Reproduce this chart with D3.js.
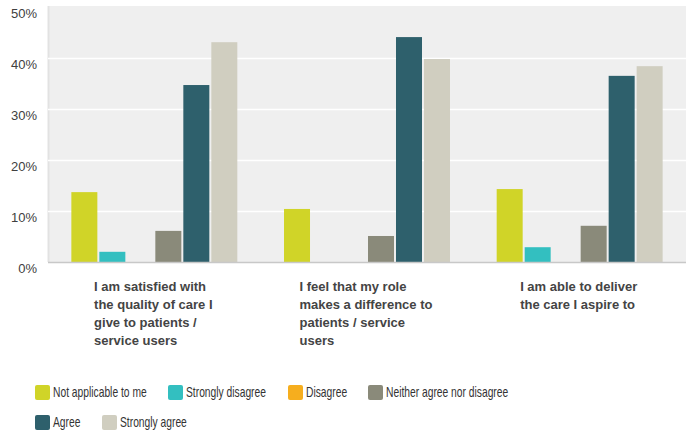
<!DOCTYPE html>
<html>
<head>
<meta charset="utf-8">
<script src="https://cdn.jsdelivr.net/npm/d3@7"></script>
<style>
  html, body { margin: 0; padding: 0; background: #ffffff; }
  svg { display: block; }
</style>
</head>
<body>
<svg id="chart" width="686" height="433"></svg>
<script>
// ---- Data ----
const categories = [
  "I am satisfied with the quality of care I give to patients / service users",
  "I feel that my role makes a difference to patients / service users",
  "I am able to deliver the care I aspire to"
];
const categoryLines = [
  ["I am satisfied with", "the quality of care I", "give to patients /", "service users"],
  ["I feel that my role", "makes a difference to", "patients / service", "users"],
  ["I am able to deliver", "the care I aspire to"]
];
const seriesNames = ["Not applicable to me", "Strongly disagree", "Disagree", "Neither agree nor disagree", "Agree", "Strongly agree"];
const seriesColors = ["#d0d428", "#33bfc0", "#f6ae1e", "#8a8a7a", "#2e606c", "#d0cec0"];
const notApplicable    = [0.137, 0.104, 0.143];
const stronglyDisagree = [0.020, 0.000, 0.029];
const disagree         = [0.000, 0.000, 0.000];
const neither          = [0.061, 0.051, 0.071];
const agree            = [0.347, 0.441, 0.365];
const stronglyAgree    = [0.431, 0.398, 0.384];
const seriesValues = [notApplicable, stronglyDisagree, disagree, neither, agree, stronglyAgree];
const yTicks = [0, 0.1, 0.2, 0.3, 0.4, 0.5];

// ---- Layout ----
const svg = d3.select("#chart");
const plot = { left: 48, right: 686, top: 6, bottom: 262 };

const x0 = d3.scaleBand().domain(categories).range([plot.left, plot.right]).paddingInner(0).paddingOuter(0);
const x1 = d3.scaleBand().domain(seriesNames).range([0, x0.bandwidth()]).paddingInner(0.0714).paddingOuter(0.834);
const y = d3.scaleLinear().domain([0, 0.5]).range([262, 7]);
const color = d3.scaleOrdinal().domain(seriesNames).range(seriesColors);

// Plot background
svg.append("rect")
  .attr("x", plot.left).attr("y", plot.top)
  .attr("width", plot.right - plot.left).attr("height", plot.bottom - plot.top)
  .attr("fill", "#efefef");

// left edge line
svg.append("line")
  .attr("x1", plot.left + 0.5).attr("x2", plot.left + 0.5)
  .attr("y1", plot.top).attr("y2", plot.bottom)
  .attr("stroke", "#e2e2e2").attr("stroke-width", 2);

// Gridlines
const grid = svg.append("g")
  .attr("transform", `translate(${plot.left},0)`)
  .call(d3.axisLeft(y).tickValues(yTicks.filter(d => d > 0 && d < 0.5)).tickSize(-(plot.right - plot.left)).tickFormat(""));
grid.select(".domain").remove();
grid.selectAll(".tick line").attr("stroke", "#ffffff").attr("stroke-width", 1.3);

// Y axis labels
const yAxis = svg.append("g")
  .attr("transform", `translate(${plot.left},0)`)
  .call(d3.axisLeft(y).tickValues(yTicks).tickSize(0).tickPadding(11).tickFormat(d3.format(".0%")));
yAxis.select(".domain").remove();
yAxis.selectAll(".tick text")
  .attr("font-family", "'Liberation Sans', Arial, sans-serif")
  .attr("font-size", 13)
  .attr("fill", "#404040")
  .attr("dy", "0.32em")
  .attr("transform", "translate(0,6)");

// Bars
const groups = svg.append("g").selectAll("g")
  .data(categories)
  .join("g")
  .attr("transform", d => `translate(${x0(d)},0)`);

groups.selectAll("rect")
  .data((c, ci) => seriesNames.map((s, si) => ({ s, v: seriesValues[si][ci] })))
  .join("rect")
  .attr("x", d => x1(d.s))
  .attr("width", x1.bandwidth())
  .attr("y", d => y(d.v))
  .attr("height", d => y(0) - y(d.v))
  .attr("fill", d => color(d.s));

// Baseline
svg.append("line")
  .attr("x1", plot.left).attr("x2", plot.right)
  .attr("y1", 262.5).attr("y2", 262.5)
  .attr("stroke", "#c8c8c8").attr("stroke-width", 1.5);

// X axis category labels
const xAxis = svg.append("g")
  .attr("transform", `translate(0,${plot.bottom})`)
  .call(d3.axisBottom(x0).tickSize(0).tickFormat(""));
xAxis.select(".domain").remove();
xAxis.selectAll(".tick").each(function(d, i) {
  const t = d3.select(this).append("text")
    .attr("font-family", "'Liberation Sans', Arial, sans-serif")
    .attr("font-size", 13)
    .attr("font-weight", "bold")
    .attr("fill", "#444444")
    .attr("text-anchor", "start");
  categoryLines[i].forEach((line, li) => {
    t.append("tspan").attr("x", 0).attr("y", 29 + li * 18).text(line);
  });
  const w = t.node().getBBox().width;
  t.attr("transform", `translate(${-w / 2 - 1},0)`);
});

// Legend
const legendPos = [
  [35, 385], [168, 385], [288, 385], [368, 385],
  [35, 415], [102, 415]
];
const legend = svg.append("g").selectAll("g")
  .data(seriesNames)
  .join("g")
  .attr("transform", (d, i) => `translate(${legendPos[i][0]},${legendPos[i][1]})`);
legend.append("rect")
  .attr("width", 15).attr("height", 15).attr("rx", 2)
  .attr("fill", d => color(d));
legend.append("text")
  .attr("transform", "translate(18,11.5) scale(0.735,1)")
  .attr("font-family", "'Liberation Sans', Arial, sans-serif")
  .attr("font-size", 14)
  .attr("fill", "#333333")
  .text(d => d);
</script>
</body>
</html>
